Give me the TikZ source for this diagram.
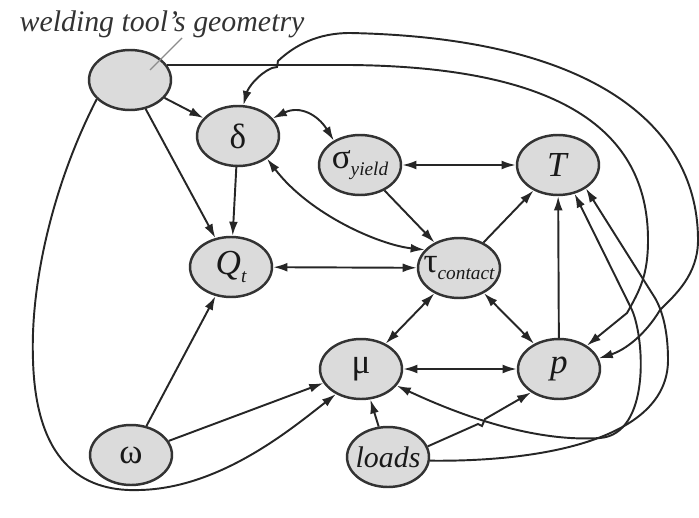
\documentclass[tikz,border=0pt]{standalone}
\usepackage{fontspec}
\setmainfont{Liberation Serif}
\usetikzlibrary{shapes.geometric,arrows.meta}
\newcommand{\lowtxt}[1]{\raisebox{-0.45ex}{\fontsize{11}{11}\selectfont\itshape #1}} % index under the symbol
\newcommand{\vname}[1]{\makebox[0pt]{#1}} % keeps the ellipse from growing
\begin{document}
\begin{tikzpicture}[x=0.02cm, y=-0.02cm] % one unit = one pixel, y runs down
\tikzstyle{var} = [ellipse, draw=black!80, fill=black!14, line width=1.4pt, minimum width=1.64cm, minimum height=1.2cm, inner sep=0pt, text=black!90, font=\fontsize{20}{20}\selectfont] % variable
\tikzstyle{dep} = [-{Latex[length=8pt,width=5pt]}, line width=1.1pt, draw=black!85] % one-way influence
\tikzstyle{mut} = [{Latex[length=8pt,width=5pt]}-{Latex[length=8pt,width=5pt]}, line width=1.1pt, draw=black!85] % two-way influence
\tikzstyle{leader} = [draw=black!45, line width=0.8pt]

\useasboundingbox (0,0) rectangle (699,517);

% variables
\node[text=black!80, font=\fontsize{17}{17}\selectfont\itshape] (title) at (162,24) {welding tool’s geometry};
\node[var] (G) at (130,80) {};
\node[var] (delta) at (238,136) {\vname{δ}};
\node[var] (sigma) at (360,165) {\vname{σ\lowtxt{yield}}};
\node[var] (T) at (558,165) {\vname{\textit{T}}};
\node[var] (Q) at (231,267) {\vname{\textit{Q}\lowtxt{t}}};
\node[var] (tau) at (459,268) {\vname{τ\lowtxt{contact}}};
\node[var] (mu) at (361,369) {\vname{μ}};
\node[var] (p) at (559,369) {\vname{\textit{p}}};
\node[var] (loads) at (388,457) {\vname{\fontsize{17}{17}\selectfont\itshape loads}};
\node[var] (omega) at (131,455) {\vname{ω}};

% pointer from the caption
\coordinate (lead) at (182,38);
\coordinate (spot) at (150,70);
\draw[leader] (lead) -- (spot);

% straight links
\draw[dep] (G) -- (delta);
\draw[dep] (G) -- (Q);
\draw[dep] (delta) -- (Q);
\draw[mut] (sigma) -- (T);
\draw[dep] (sigma) -- (tau);
\draw[mut] (Q) -- (tau);
\draw[dep] (tau) -- (T);
\draw[mut] (tau) -- (mu);
\draw[mut] (tau) -- (p);
\draw[mut] (mu) -- (p);
\draw[dep] (p) -- (T);
\draw[dep] (omega) -- (Q);
\draw[dep] (omega) -- (mu);
\draw[dep] (loads) -- (mu);
\draw[dep] (loads.15) -- (478,424) -- (482,426) -- (485,419) -- (p.-140); % small jump over the curve

% bent links
\draw[mut] (delta.27) .. controls (300,105) and (318,115) .. (sigma.137);
\draw[mut] (tau.152) .. controls (380,245) and (310,215) .. (delta.-38);
\draw[dep] (G.210) .. controls (55,180) and (30,280) .. (33,360)
    .. controls (36,470) and (90,492) .. (140,490)
    .. controls (220,488) and (290,430) .. (mu.-135);
\draw[dep] (G.22) -- (350,65) .. controls (560,67) and (648,130) .. (648,240)
    .. controls (648,275) and (640,290) .. (627,313) -- (p.40);
\draw[mut] (delta.80) .. controls (248,88) and (258,74) .. (272,68) -- (277,67) -- (278,61)
    .. controls (295,45) and (318,33) .. (350,33)
    .. controls (600,38) and (698,130) .. (698,240)
    .. controls (698,275) and (675,295) .. (660,310)
    .. controls (645,335) and (625,350) .. (p.15);
\draw[mut] (mu.-25) .. controls (470,420) and (540,442) .. (600,438)
    .. controls (650,434) and (645,340) .. (632,310) -- (T.-60);
\draw[dep] (loads.-5) .. controls (540,462) and (668,440) .. (668,360)
    .. controls (668,330) and (662,310) .. (655,298) -- (T.-40);
\end{tikzpicture}
\end{document}
